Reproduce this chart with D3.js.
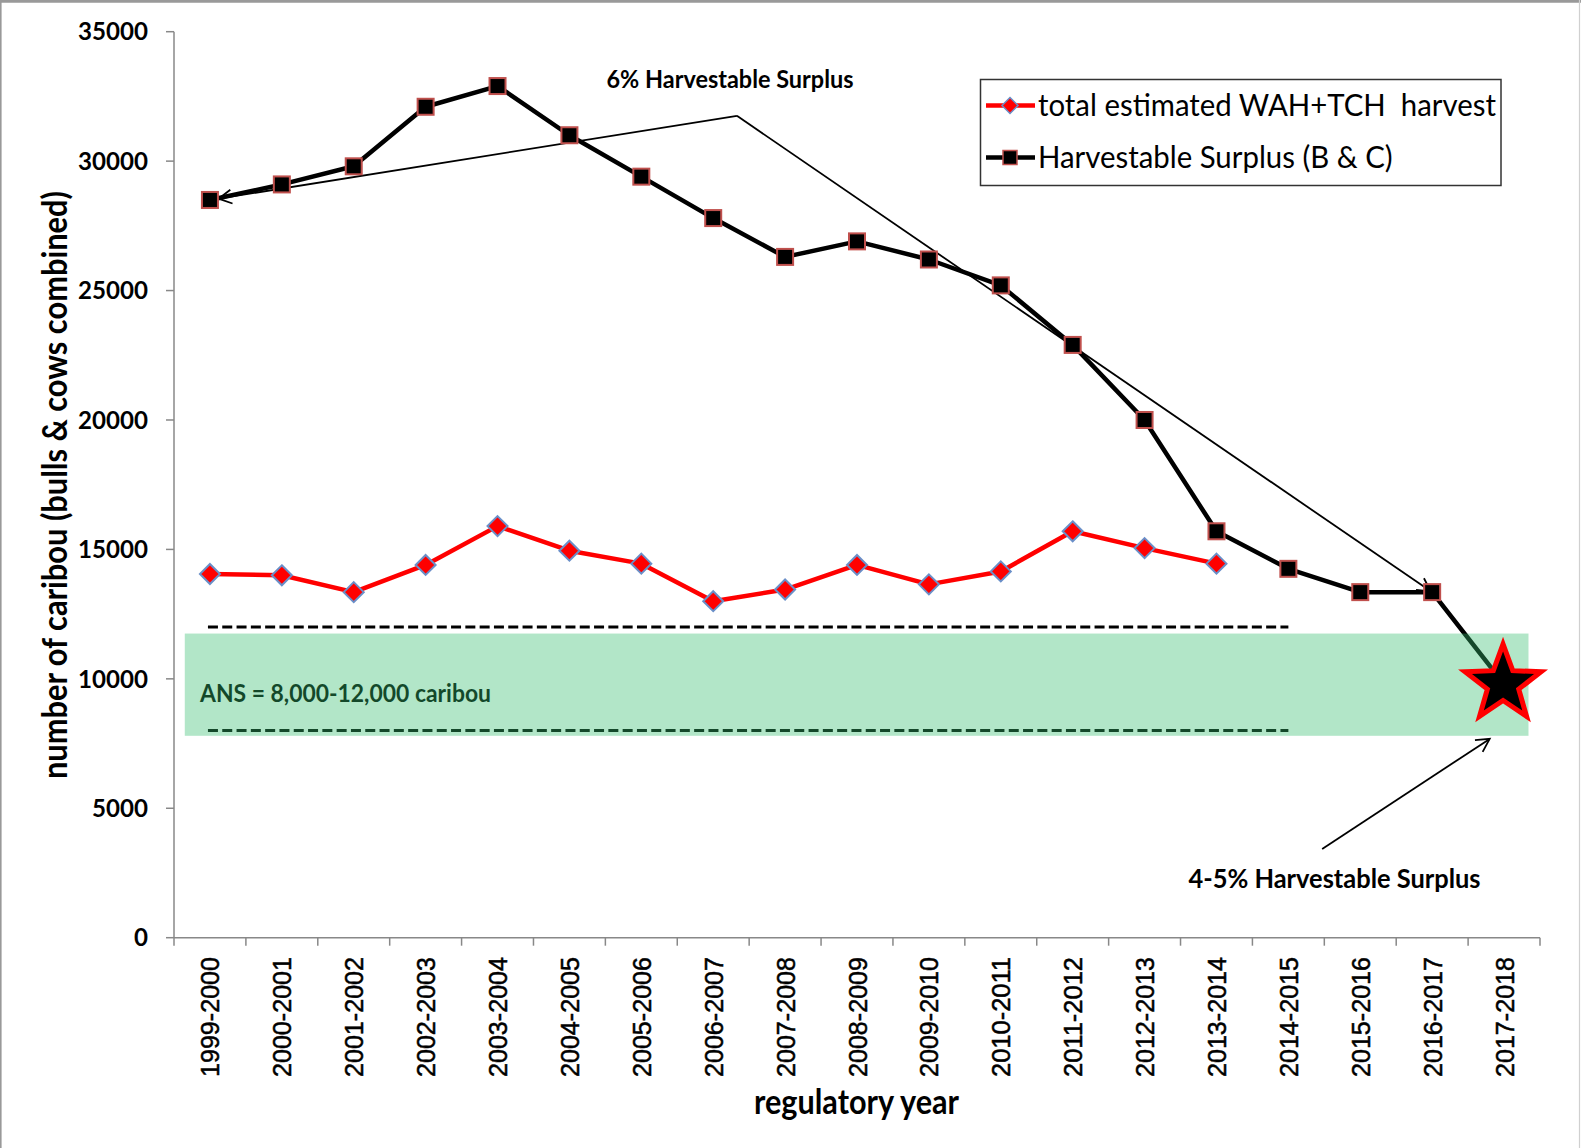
<!DOCTYPE html>
<html>
<head>
<meta charset="utf-8">
<script src="https://cdn.jsdelivr.net/npm/d3@7"></script>
<style>
  body { margin: 0; background: #fff; }
  svg { display: block; }
</style>
</head>
<body>
<svg id="chart" width="1581" height="1148"></svg>
<script>
// regulatory years on the x axis
let years = ["1999-2000", "2000-2001", "2001-2002", "2002-2003", "2003-2004",
    "2004-2005", "2005-2006", "2006-2007", "2007-2008", "2008-2009",
    "2009-2010", "2010-2011", "2011-2012", "2012-2013", "2013-2014",
    "2014-2015", "2015-2016", "2016-2017", "2017-2018"];

// total estimated WAH+TCH harvest (stops at 2013-2014)
let harvest = [14050, 14000, 13350, 14400, 15900, 14950, 14450, 13000, 13450,
    14400, 13650, 14150, 15700, 15050, 14450];

// harvestable surplus (B & C), last value is the star
let surplus = [28500, 29100, 29800, 32100, 32900, 31000, 29400, 27800, 26300,
    26900, 26200, 25200, 22900, 20000, 15700, 14250, 13350, 13350, 9800];

let yTicks = [0, 5000, 10000, 15000, 20000, 25000, 30000, 35000];

// ANS range and the shaded band behind it
let ansLines = [12000, 8000];
let ansBand = [7800, 11750];

let svg = d3.select("#chart");
let width = 1581;
let height = 1148;

let x0 = 174, x1 = 1540;
let yTop = 31.7, yBottom = 937.7;

let x = d3.scaleBand().domain(years).range([x0, x1]).padding(0);
let y = d3.scaleLinear().domain([0, 35000]).range([yBottom, yTop]);

// position by (fractional) category index, used for annotations
let xi = function (i) {
    return x0 + x.bandwidth() * (i + 0.5);
};

// fit a text element's font size to a measured width
let fit = function (sel, w) {
    let cur = sel.node().getComputedTextLength();
    let fs = parseFloat(sel.attr("font-size"));
    let nfs = fs * w / cur;
    sel.attr("font-size", nfs);
    return nfs;
};

// same, but a bit taller and squeezed back to width (narrow Calibri look)
let fitTall = function (sel, w, k) {
    let nfs = fit(sel, w * k);
    sel.attr("textLength", w).attr("lengthAdjust", "spacingAndGlyphs");
    return nfs;
};

// page border
svg.append("rect").attr("x", 0).attr("y", 0).attr("width", width).attr("height", height)
    .attr("fill", "#fff");
svg.append("line").attr("x1", 0).attr("x2", width).attr("y1", 1.3).attr("y2", 1.3)
    .attr("stroke", "#999").attr("stroke-width", 2.7);
svg.append("line").attr("x1", 0.8).attr("x2", 0.8).attr("y1", 0).attr("y2", height)
    .attr("stroke", "#999").attr("stroke-width", 1.6);
svg.append("line").attr("x1", 1579.5).attr("x2", 1579.5).attr("y1", 0).attr("y2", height)
    .attr("stroke", "#d0d0d0").attr("stroke-width", 1.2);

let defs = svg.append("defs");
defs.append("marker")
    .attr("id", "arrow")
    .attr("markerUnits", "userSpaceOnUse")
    .attr("markerWidth", 30).attr("markerHeight", 30)
    .attr("viewBox", "-15 -15 30 30")
    .attr("refX", 0).attr("refY", 0)
    .attr("orient", "auto")
    .append("path")
    .attr("d", "M-13,-7 L0,0 L-13,7")
    .attr("fill", "none")
    .attr("stroke", "#000")
    .attr("stroke-width", 1.8);

// y axis
let yAxis = svg.append("g");
yAxis.append("line").attr("x1", x0).attr("x2", x0).attr("y1", yTop).attr("y2", yBottom)
    .attr("stroke", "#888").attr("stroke-width", 1.5);
yAxis.selectAll(".ytick").data(yTicks).enter().append("line")
    .attr("x1", x0 - 8).attr("x2", x0)
    .attr("y1", function (d) { return y(d); })
    .attr("y2", function (d) { return y(d); })
    .attr("stroke", "#888").attr("stroke-width", 1.5);
let yLabels = yAxis.selectAll(".ylabel").data(yTicks).enter().append("text")
    .attr("x", 148)
    .attr("y", function (d) { return y(d); })
    .attr("dy", "0.36em")
    .attr("text-anchor", "end")
    .attr("font-family", "Lato, sans-serif")
    .attr("font-weight", "bold")
    .attr("font-size", 24)
    .attr("fill", "#000")
    .text(function (d) { return d; });
let yfs = fit(d3.select(yLabels.nodes()[7]), 70);
yLabels.attr("font-size", yfs);

// x axis
let xAxis = svg.append("g");
xAxis.append("line").attr("x1", x0).attr("x2", x1).attr("y1", yBottom).attr("y2", yBottom)
    .attr("stroke", "#888").attr("stroke-width", 1.5);
xAxis.selectAll(".xtick").data(d3.range(years.length + 1)).enter().append("line")
    .attr("x1", function (i) { return x0 + i * x.bandwidth(); })
    .attr("x2", function (i) { return x0 + i * x.bandwidth(); })
    .attr("y1", yBottom).attr("y2", yBottom + 8)
    .attr("stroke", "#888").attr("stroke-width", 1.5);
let xLabels = xAxis.selectAll(".xlabel").data(years).enter().append("text")
    .attr("transform", function (d) {
        return "translate(" + (x(d) + x.bandwidth() / 2 + 9.5) + "," + 957 + ") rotate(-90)";
    })
    .attr("text-anchor", "end")
    .attr("font-family", "'Liberation Sans', Arial, sans-serif")
    .attr("font-size", 25)
    .attr("fill", "#000")
    .attr("stroke", "#000")
    .attr("stroke-width", 0.5)
    .text(function (d) { return d; });
let xfs = fit(d3.select(xLabels.nodes()[0]), 120);
xLabels.attr("font-size", xfs * 1.04)
    .attr("textLength", 120).attr("lengthAdjust", "spacingAndGlyphs");

// axis titles
let yTitle = svg.append("text")
    .attr("transform", "translate(67,485) rotate(-90)")
    .attr("text-anchor", "middle")
    .attr("font-family", "Lato, sans-serif")
    .attr("font-weight", "bold")
    .attr("font-size", 28)
    .attr("fill", "#000")
    .text("number of caribou (bulls & cows combined)");
fitTall(yTitle, 588, 1.12);

let xTitle = svg.append("text")
    .attr("x", 856.5).attr("y", 1114)
    .attr("text-anchor", "middle")
    .attr("font-family", "Lato, sans-serif")
    .attr("font-weight", "bold")
    .attr("font-size", 28)
    .attr("fill", "#000")
    .text("regulatory year");
fitTall(xTitle, 205, 1.12);

// ANS dashed lines
svg.selectAll(".ans").data(ansLines).enter().append("line")
    .attr("x1", xi(0) - 2).attr("x2", xi(15))
    .attr("y1", function (d) { return y(d); })
    .attr("y2", function (d) { return y(d); })
    .attr("stroke", "#000")
    .attr("stroke-width", 3)
    .attr("stroke-dasharray", "10,4.3");

let ansText = svg.append("text")
    .attr("x", 200).attr("y", y(9100))
    .attr("font-family", "Lato, sans-serif")
    .attr("font-weight", "bold")
    .attr("font-size", 22)
    .attr("fill", "#000")
    .text("ANS = 8,000-12,000 caribou");
fitTall(ansText, 291, 1.1);

// surplus line
let line = d3.line()
    .x(function (d, i) { return x(years[i]) + x.bandwidth() / 2; })
    .y(function (d) { return y(d); });

svg.append("path")
    .datum(surplus)
    .attr("d", line)
    .attr("fill", "none")
    .attr("stroke", "#000")
    .attr("stroke-width", 4.5)
    .attr("stroke-linejoin", "round");

svg.append("path")
    .datum(harvest)
    .attr("d", line)
    .attr("fill", "none")
    .attr("stroke", "#ff0000")
    .attr("stroke-width", 4.5)
    .attr("stroke-linejoin", "round");

// annotation lines for 6% surplus
let peak = { i: 7.33, v: 31750 };
svg.append("path")
    .attr("d", "M" + xi(peak.i) + "," + y(peak.v) + " L" + xi(0.12) + "," + y(28550))
    .attr("fill", "none").attr("stroke", "#000").attr("stroke-width", 1.8)
    .attr("marker-end", "url(#arrow)");
svg.append("path")
    .attr("d", "M" + xi(peak.i) + "," + y(peak.v) + " L" + xi(16.98) + "," + y(13380))
    .attr("fill", "none").attr("stroke", "#000").attr("stroke-width", 1.8)
    .attr("marker-end", "url(#arrow)");

// markers
svg.selectAll(".sq").data(surplus.slice(0, 18)).enter().append("rect")
    .attr("x", function (d, i) { return x(years[i]) + x.bandwidth() / 2 - 8; })
    .attr("y", function (d) { return y(d) - 8; })
    .attr("width", 16).attr("height", 16)
    .attr("fill", "#000")
    .attr("stroke", "#c0504d")
    .attr("stroke-width", 2);

let diamond = "M0,-10 L10,0 L0,10 L-10,0Z";
svg.selectAll(".dm").data(harvest).enter().append("path")
    .attr("transform", function (d, i) {
        return "translate(" + (x(years[i]) + x.bandwidth() / 2) + "," + y(d) + ")";
    })
    .attr("d", diamond)
    .attr("fill", "#ff0000")
    .attr("stroke", "#6a8fc8")
    .attr("stroke-width", 2);

// shaded ANS band (translucent, on top of the lines)
svg.append("rect")
    .attr("x", xi(-0.35)).attr("width", xi(18.34) - xi(-0.35))
    .attr("y", y(ansBand[1])).attr("height", y(ansBand[0]) - y(ansBand[1]))
    .attr("fill", "rgb(53,189,110)")
    .attr("fill-opacity", 0.38);

// star for 2017-2018
let starPath = function (R, r) {
    let pts = [];
    for (let k = 0; k < 10; k++) {
        let a = -Math.PI / 2 + k * Math.PI / 5;
        let rr = k % 2 === 0 ? R : r;
        pts.push([rr * Math.cos(a), rr * Math.sin(a)]);
    }
    return "M" + pts.map(function (p) { return p[0].toFixed(2) + "," + p[1].toFixed(2); }).join("L") + "Z";
};
svg.append("path")
    .attr("transform", "translate(" + (x(years[18]) + x.bandwidth() / 2 - 1) + "," + y(surplus[18]) + ")")
    .attr("d", starPath(40, 16.5))
    .attr("fill", "#000")
    .attr("stroke", "#ff0000")
    .attr("stroke-width", 5)
    .attr("stroke-linejoin", "miter");

// 4-5% arrow
svg.append("path")
    .attr("d", "M" + xi(15.47) + "," + y(3430) + " L" + xi(17.8) + "," + y(7680))
    .attr("fill", "none").attr("stroke", "#000").attr("stroke-width", 1.8)
    .attr("marker-end", "url(#arrow)");

// annotation texts
let t6 = svg.append("text")
    .attr("x", 730).attr("y", 88.3)
    .attr("text-anchor", "middle")
    .attr("font-family", "Lato, sans-serif")
    .attr("font-weight", "bold")
    .attr("font-size", 20)
    .attr("fill", "#000")
    .text("6% Harvestable Surplus");
fitTall(t6, 247, 1.08);

let t45 = svg.append("text")
    .attr("x", 1334.5).attr("y", 887.5)
    .attr("text-anchor", "middle")
    .attr("font-family", "Lato, sans-serif")
    .attr("font-weight", "bold")
    .attr("font-size", 22)
    .attr("fill", "#000")
    .text("4-5% Harvestable Surplus");
fitTall(t45, 292, 1.08);

// legend
let legend = svg.append("g");
legend.append("rect")
    .attr("x", 980.5).attr("y", 79.5)
    .attr("width", 520.5).attr("height", 106)
    .attr("fill", "#fff")
    .attr("stroke", "#333")
    .attr("stroke-width", 1.5);

let ly1 = 105.5, ly2 = 157.5;
legend.append("line").attr("x1", 986).attr("x2", 1035).attr("y1", ly1).attr("y2", ly1)
    .attr("stroke", "#ff0000").attr("stroke-width", 4.5);
legend.append("path").attr("transform", "translate(1010," + ly1 + ")")
    .attr("d", "M0,-8 L8,0 L0,8 L-8,0Z")
    .attr("fill", "#ff0000").attr("stroke", "#6a8fc8").attr("stroke-width", 1.5);
legend.append("line").attr("x1", 986).attr("x2", 1035).attr("y1", ly2).attr("y2", ly2)
    .attr("stroke", "#000").attr("stroke-width", 4.5);
legend.append("rect").attr("x", 1003).attr("y", ly2 - 7).attr("width", 14).attr("height", 14)
    .attr("fill", "#000").attr("stroke", "#c0504d").attr("stroke-width", 1.5);

let lt1 = legend.append("text")
    .attr("x", 1038).attr("y", 115.5)
    .attr("font-family", "Lato, sans-serif")
    .attr("font-size", 24)
    .attr("fill", "#000")
    .attr("xml:space", "preserve")
    .style("white-space", "pre")
    .text("total estimated WAH+TCH  harvest");
let lfs = fitTall(lt1, 458, 1.06);
let lt2 = legend.append("text")
    .attr("x", 1038).attr("y", 167.5)
    .attr("font-family", "Lato, sans-serif")
    .attr("font-size", lfs)
    .attr("fill", "#000")
    .text("Harvestable Surplus (B & C)");
let w2 = lt2.node().getComputedTextLength();
lt2.attr("textLength", w2 / 1.06).attr("lengthAdjust", "spacingAndGlyphs");
</script>
</body>
</html>
